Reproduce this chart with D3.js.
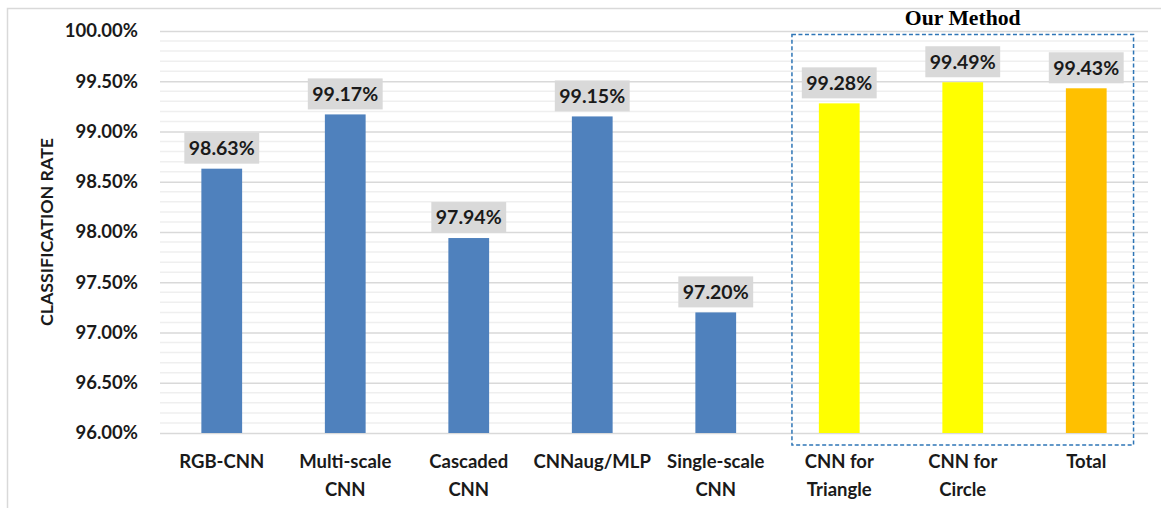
<!DOCTYPE html>
<html><head><meta charset="utf-8">
<script src="https://cdn.jsdelivr.net/npm/d3@7"></script>
<style>body{margin:0;background:#fff}svg{display:block}</style>
</head><body>
<svg id="c" width="1161" height="508"></svg>
<script>
const categories = ["RGB-CNN", "Multi-scale\nCNN", "Cascaded\nCNN", "CNNaug/MLP", "Single-scale\nCNN", "CNN for\nTriangle", "CNN for\nCircle", "Total"];
const values = [98.63, 99.17, 97.94, 99.15, 97.20, 99.28, 99.49, 99.43];
const barColors = ["#4f81bd", "#4f81bd", "#4f81bd", "#4f81bd", "#4f81bd", "#ffff00", "#ffff00", "#ffc000"];
const yTicks = [96.0, 96.5, 97.0, 97.5, 98.0, 98.5, 99.0, 99.5, 100.0];
const groupedCategories = ["CNN for\nTriangle", "CNN for\nCircle", "Total"];
const groupTitle = "Our Method";
const yTitle = "CLASSIFICATION RATE";

(function () {
const svg = d3.select("#c");
const font = "Lato, 'Open Sans', sans-serif";
const pL = 160, pR = 1148, pT = 31, pB = 433;

// outer chart border
svg.append("rect").attr("x", 7.5).attr("y", 8.5).attr("width", 1170).attr("height", 520)
  .attr("fill", "none").attr("stroke", "#d9d9d9").attr("stroke-width", 1.5);

const x = d3.scaleBand().domain(categories).range([pL, pR]).paddingInner(0.67).paddingOuter(0.335);
const y = d3.scaleLinear().domain([96, 100]).range([pB, pT]);

// minor gridlines
const minor = d3.range(960, 1001, 1).map(v => v / 10).filter(v => Math.round(v * 10) % 5 !== 0);
svg.append("g").selectAll("line").data(minor).join("line")
  .attr("x1", pL).attr("x2", pR)
  .attr("y1", d => y(d)).attr("y2", d => y(d))
  .attr("stroke", "#efefef").attr("stroke-width", 1.5);

// y axis with major gridlines
const yAxis = d3.axisLeft(y).tickValues(yTicks).tickFormat(d => d.toFixed(2) + "%").tickSize(-(pR - pL)).tickPadding(22);
const ga = svg.append("g").attr("transform", `translate(${pL},0)`).call(yAxis);
ga.select(".domain").remove();
ga.selectAll(".tick line").attr("stroke", "#d9d9d9").attr("stroke-width", 1.5);
ga.selectAll(".tick text").attr("font-family", font).attr("font-weight", "bold")
  .attr("font-size", 18.5).attr("fill", "#1a1a1a");

// bars
svg.append("g").selectAll("rect").data(categories).join("rect")
  .attr("x", d => x(d)).attr("width", x.bandwidth())
  .attr("y", (d, i) => y(values[i])).attr("height", (d, i) => y(96) - y(values[i]))
  .attr("fill", (d, i) => barColors[i]);

// data labels with gray box
const lg = svg.append("g");
categories.forEach((c, i) => {
  const cx = x(c) + x.bandwidth() / 2;
  const by = y(values[i]) - 5;
  const g = lg.append("g");
  const r = g.append("rect").attr("fill", "#d9d9d9");
  const t = g.append("text").attr("x", cx).attr("y", by - 15.5).attr("dy", "0.35em")
    .attr("text-anchor", "middle").attr("font-family", font).attr("font-weight", "bold")
    .attr("font-size", 19.5).attr("fill", "#1a1a1a").text(values[i].toFixed(2) + "%");
  const w = t.node().getComputedTextLength() + 9;
  r.attr("x", cx - w / 2).attr("y", by - 31).attr("width", w).attr("height", 31);
});

// x labels
const xg = svg.append("g");
categories.forEach(c => {
  const lines = c.split("\n");
  const t = xg.append("text").attr("text-anchor", "middle").attr("font-family", font)
    .attr("font-weight", "bold").attr("font-size", 18.5).attr("fill", "#1a1a1a");
  lines.forEach((l, j) => {
    t.append("tspan").attr("x", x(c) + x.bandwidth() / 2).attr("y", 468 + j * 27.5).text(l);
  });
});

// y title
svg.append("text").attr("transform", `translate(53,${(pT + pB) / 2}) rotate(-90)`)
  .attr("text-anchor", "middle").attr("font-family", font).attr("font-weight", "bold")
  .attr("font-size", 17.8).attr("fill", "#1a1a1a").text(yTitle);

// dashed group box
const gx0 = x(groupedCategories[0]) - x.step() * 0.218;
const gx1 = x(groupedCategories[groupedCategories.length - 1]) + x.bandwidth() + x.step() * 0.218;
svg.append("rect").attr("x", gx0).attr("y", pT + 3.5)
  .attr("width", gx1 - gx0).attr("height", pB + 12 - (pT + 3.5))
  .attr("fill", "none").attr("stroke", "#2e75b6").attr("stroke-width", 1.5).attr("stroke-dasharray", "4,2.5");

svg.append("text").attr("x", (gx0 + gx1) / 2).attr("y", 25).attr("text-anchor", "middle")
  .attr("font-family", "'Liberation Serif', 'Times New Roman', serif").attr("font-weight", "bold")
  .attr("font-size", 21.7).attr("fill", "#000").text(groupTitle);
})();
</script>
</body></html>
